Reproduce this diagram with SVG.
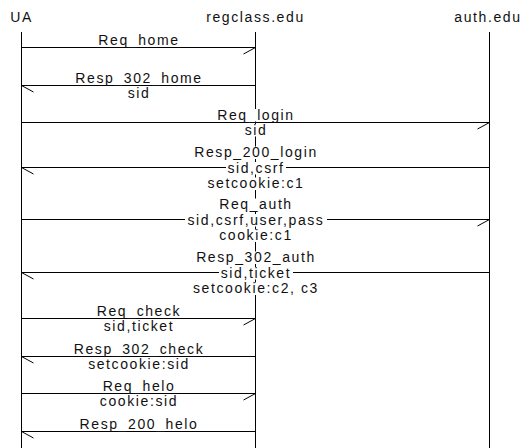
<svg xmlns="http://www.w3.org/2000/svg" width="522" height="448" viewBox="0 0 522 448">
<style>
.t{font-family:"Liberation Sans",Arial,Helvetica,sans-serif;font-size:14px;letter-spacing:1.6px;fill:#111;text-anchor:middle}
.ln{stroke:#000;stroke-width:1;fill:none}
.bg{fill:#fff}
</style>
<rect width="522" height="448" fill="#fff"/>
<g id="UA">
<text class="t" x="21.5" y="21.5">UA</text>
<line class="ln" x1="21.5" y1="32" x2="21.5" y2="448"/>
</g>
<g id="regclass">
<text class="t" x="255.5" y="21.5">regclass.edu</text>
<line class="ln" x1="255.5" y1="32" x2="255.5" y2="448"/>
</g>
<g id="auth">
<text class="t" x="488" y="21.5">auth.edu</text>
<line class="ln" x1="489.5" y1="32" x2="489.5" y2="448"/>
</g>
<g id="connectors">
<g id="m1">
<line class="ln" x1="21.5" y1="47.5" x2="255.5" y2="47.5"/>
<line class="ln" x1="255.5" y1="47.5" x2="243.5" y2="54"/>
<text class="t" x="139" y="45">Req_home</text>
</g>
<g id="m2">
<line class="ln" x1="255.5" y1="85.5" x2="21.5" y2="85.5"/>
<line class="ln" x1="21.5" y1="85.5" x2="33.5" y2="92"/>
<text class="t" x="139" y="83">Resp_302_home</text>
<text class="t" x="139" y="97.5">sid</text>
</g>
<g id="m3">
<line class="ln" x1="21.5" y1="122.5" x2="489.5" y2="122.5"/>
<line class="ln" x1="489.5" y1="122.5" x2="477.5" y2="129"/>
<rect class="bg" x="216" y="109" width="80" height="12.5"/>
<text class="t" x="256" y="120">Req_login</text>
<rect class="bg" x="243" y="124" width="26" height="12.5"/>
<text class="t" x="256" y="134.5">sid</text>
</g>
<g id="m4">
<line class="ln" x1="489.5" y1="167.5" x2="21.5" y2="167.5"/>
<line class="ln" x1="21.5" y1="167.5" x2="33.5" y2="174"/>
<rect class="bg" x="193" y="146.5" width="126" height="12.5"/>
<text class="t" x="256" y="157">Resp_200_login</text>
<rect class="bg" x="226" y="162" width="60" height="12.5"/>
<text class="t" x="256" y="172.5">sid,csrf</text>
<rect class="bg" x="206" y="177.5" width="100" height="12.5"/>
<text class="t" x="256" y="188">setcookie:c1</text>
</g>
<g id="m5">
<line class="ln" x1="21.5" y1="219.5" x2="489.5" y2="219.5"/>
<line class="ln" x1="489.5" y1="219.5" x2="477.5" y2="226"/>
<rect class="bg" x="218" y="198.5" width="76" height="12.5"/>
<text class="t" x="256" y="209">Req_auth</text>
<rect class="bg" x="185" y="214" width="142" height="12.5"/>
<text class="t" x="256" y="224.5">sid,csrf,user,pass</text>
<rect class="bg" x="218" y="229.5" width="76" height="12.5"/>
<text class="t" x="256" y="240">cookie:c1</text>
</g>
<g id="m6">
<line class="ln" x1="489.5" y1="272.5" x2="21.5" y2="272.5"/>
<line class="ln" x1="21.5" y1="272.5" x2="33.5" y2="279"/>
<rect class="bg" x="195" y="251.5" width="122" height="12.5"/>
<text class="t" x="256" y="262">Resp_302_auth</text>
<rect class="bg" x="219" y="267" width="74" height="12.5"/>
<text class="t" x="256" y="277.5">sid,ticket</text>
<rect class="bg" x="192" y="282.5" width="128" height="12.5"/>
<text class="t" x="256" y="293">setcookie:c2, c3</text>
</g>
<g id="m7">
<line class="ln" x1="21.5" y1="318.5" x2="255.5" y2="318.5"/>
<line class="ln" x1="255.5" y1="318.5" x2="243.5" y2="325"/>
<text class="t" x="139" y="316">Req_check</text>
<text class="t" x="139" y="330.5">sid,ticket</text>
</g>
<g id="m8">
<line class="ln" x1="255.5" y1="356.5" x2="21.5" y2="356.5"/>
<line class="ln" x1="21.5" y1="356.5" x2="33.5" y2="363"/>
<text class="t" x="139" y="354">Resp_302_check</text>
<text class="t" x="139" y="368.5">setcookie:sid</text>
</g>
<g id="m9">
<line class="ln" x1="21.5" y1="393.5" x2="255.5" y2="393.5"/>
<line class="ln" x1="255.5" y1="393.5" x2="243.5" y2="400"/>
<text class="t" x="139" y="391">Req_helo</text>
<text class="t" x="139" y="405.5">cookie:sid</text>
</g>
<g id="m10">
<line class="ln" x1="255.5" y1="431.5" x2="21.5" y2="431.5"/>
<line class="ln" x1="21.5" y1="431.5" x2="33.5" y2="438"/>
<text class="t" x="139" y="429">Resp_200_helo</text>
</g>
</g>
</svg>
